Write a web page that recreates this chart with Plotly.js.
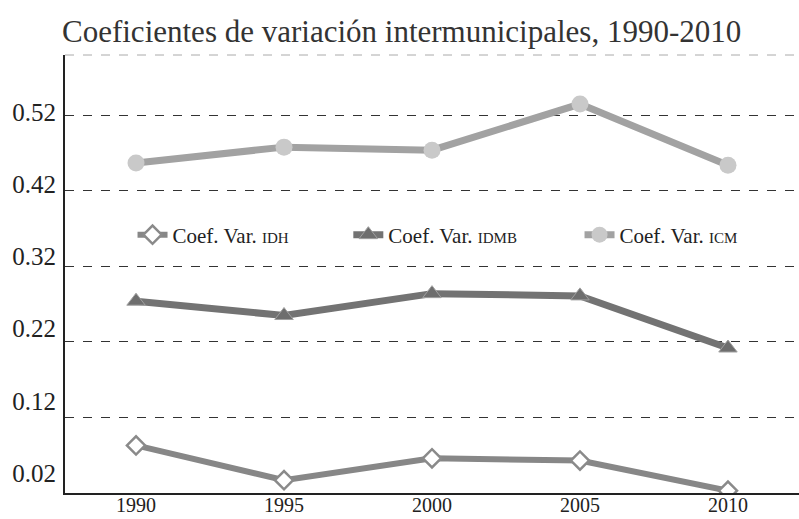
<!DOCTYPE html>
<html>
<head>
<meta charset="utf-8">
<script src="https://cdn.plot.ly/plotly-3.0.1.min.js"></script>
<style>html,body{margin:0;padding:0;background:#fff;}#chart{width:799px;height:519px;}</style>
</head>
<body>
<div id="chart"></div>
<script>
const years = ['1990', '1995', '2000', '2005', '2010'];
const idh = [0.083, 0.037, 0.066, 0.063, 0.023];
const idmb = [0.274, 0.255, 0.284, 0.281, 0.212];
const icm = [0.457, 0.478, 0.474, 0.535, 0.454];
const gridTicks = [0.12, 0.22, 0.32, 0.42, 0.52];
const labelTicks = [0.02, 0.12, 0.22, 0.32, 0.42, 0.52];
const labelText = ['0.02', '0.12', '0.22', '0.32', '0.42', '0.52'];

const serif = 'Liberation Serif, DejaVu Serif, serif';
const sc = s => '<span style="font-size:15px">' + s + '</span>';

const traces = [
  {x: years, y: idh, type: 'scatter', mode: 'lines+markers', name: 'Coef. Var. ' + sc('IDH'), legend: 'legend',
   line: {color: '#878787', width: 6},
   marker: {symbol: 'diamond', size: 14, color: '#ffffff', line: {color: '#8a8a8a', width: 2.5}}},
  {x: years, y: idmb, type: 'scatter', mode: 'lines+markers', name: 'Coef. Var. ' + sc('IDMB'), legend: 'legend2',
   line: {color: '#737373', width: 7},
   marker: {symbol: 'triangle-up', size: 16, color: '#6e6e6e', line: {color: '#a0a0a0', width: 1}}},
  {x: years, y: icm, type: 'scatter', mode: 'lines+markers', name: 'Coef. Var. ' + sc('ICM'), legend: 'legend3',
   line: {color: '#a2a2a2', width: 7},
   marker: {symbol: 'circle', size: 17, color: '#c9c9c9', line: {color: '#c9c9c9', width: 0}}}
];

const legBase = {orientation: 'h', xanchor: 'left', y: 0.589, yanchor: 'middle',
                 font: {family: serif, size: 21, color: '#222'}, bgcolor: 'rgba(0,0,0,0)'};

const layout = {
  width: 799, height: 519,
  margin: {l: 65, r: 0, t: 55, b: 26},
  paper_bgcolor: '#ffffff', plot_bgcolor: '#ffffff',
  font: {family: serif, color: '#222'},
  title: {text: 'Coeficientes de variación intermunicipales, 1990-2010', x: 0, xref: 'paper', xanchor: 'left',
          y: 0.94, yref: 'container', yanchor: 'middle', pad: {l: -3},
          font: {family: serif, size: 31, color: '#333'}},
  showlegend: true,
  legend: Object.assign({}, legBase, {x: 0.092}),
  legend2: Object.assign({}, legBase, {x: 0.386}),
  legend3: Object.assign({}, legBase, {x: 0.701}),
  xaxis: {type: 'category', range: [-0.48, 4.48], showgrid: false, zeroline: false,
          showline: true, linecolor: '#222', linewidth: 2, ticks: '', ticklabelstandoff: -7,
          tickfont: {family: serif, size: 20, color: '#222'}},
  yaxis: {range: [0.02, 0.600], tickvals: gridTicks, showticklabels: false, showgrid: true,
          gridcolor: '#333', griddash: 'dash', gridwidth: 1, zeroline: false,
          showline: true, linecolor: '#222', linewidth: 2, ticks: ''},
  yaxis2: {overlaying: 'y', side: 'left', range: [-0.0077, 0.599], tickvals: labelTicks, ticktext: labelText,
           showgrid: false, zeroline: false, showline: false, ticks: '', ticklabelstandoff: 8,
           tickfont: {family: serif, size: 25, color: '#222'}},
  shapes: [{type: 'line', xref: 'paper', yref: 'paper', x0: 0, x1: 1, y0: 1, y1: 1,
            line: {color: '#aaaaaa', width: 1, dash: 'dash'}}]
};

// invisible trace to activate the label axis
traces.push({x: years, y: idh, yaxis: 'y2', type: 'scatter', mode: 'none', showlegend: false, hoverinfo: 'skip'});

Plotly.newPlot('chart', traces, layout, {displayModeBar: false, staticPlot: true});
</script>
</body>
</html>
